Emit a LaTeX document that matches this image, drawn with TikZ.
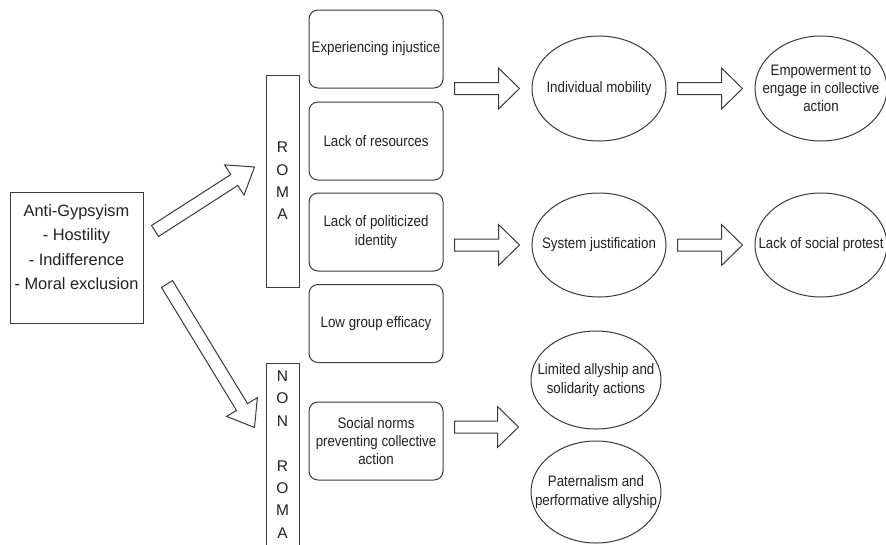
\documentclass[tikz,border=0pt]{standalone}
\usepackage{fontspec}
\setmainfont{Liberation Sans}[FakeStretch=0.875]
\newfontfamily\leftfont{Liberation Sans}
\usetikzlibrary{shapes.geometric,calc}
\definecolor{ln}{HTML}{3A3A3A}
\definecolor{tx}{HTML}{222222}
\tikzset{
 every node/.style={text=tx},
 boxr/.style={draw=ln, line width=1pt, rounded corners=9pt, minimum width=134pt, minimum height=78pt, inner sep=1pt, align=center, font=\fontsize{15.2}{18.3}\selectfont},
 ell/.style={draw=ln, line width=1pt, ellipse, inner sep=0pt},
 etxt/.style={align=center, font=\fontsize{15.2}{18.3}\selectfont, inner sep=0pt},
 bar/.style={draw=ln, line width=1pt, minimum width=33pt, inner sep=0pt},
 bartxt/.style={align=center, font=\leftfont\fontsize{15.5}{22.4}\selectfont, inner sep=0pt},
 arrline/.style={draw=ln, line width=1pt, line join=miter, fill=white},
}
% start, end, shaft half-width, head half-width, head length
\newcommand{\blockarrow}[5]{%
  \path #1 coordinate (ba-s) #2 coordinate (ba-e);
  \path ($(ba-e)!#5!(ba-s)$) coordinate (ba-h);
  \draw[arrline] ($(ba-s)!#3!90:(ba-e)$) -- ($(ba-h)!#3!90:(ba-e)$) -- ($(ba-h)!#4!90:(ba-e)$) -- (ba-e) -- ($(ba-h)!#4!-90:(ba-e)$) -- ($(ba-h)!#3!-90:(ba-e)$) -- ($(ba-s)!#3!-90:(ba-e)$) -- cycle;
}
\begin{document}
\begin{tikzpicture}[x=1pt,y=-1pt]
\useasboundingbox (0,0) rectangle (886,544);
\clip (0,0) rectangle (886,544);
\fill[white] (0,0) rectangle (886,544);

% left box
\node[draw=ln, line width=1pt, minimum width=133pt, minimum height=131pt, inner sep=0pt] (anti) at (76.5,257.5) {};
\node[align=center, font=\leftfont\fontsize{16.4}{24.3}\selectfont, inner sep=0pt] (antit) at (76.5,247) {Anti-Gypsyism\\- Hostility\\- Indifference\\- Moral exclusion};

% group bars
\node[bar, minimum height=212pt] (roma) at (282.5,181) {};
\node[bartxt] (romat) at (282.5,181) {R\\O\\M\\A};
\node[bar, minimum height=200pt] (nonroma) at (282.5,463) {};
\node[bartxt] (nonromat) at (282.5,454.5) {N\\O\\N\\\mbox{}\\R\\O\\M\\A};

% rounded boxes
\node[boxr] (b1) at (376,49) {Experiencing injustice};
\node[boxr] (b2) at (376,141) {Lack of resources};
\node[boxr] (b3) at (376,232) {Lack of politicized\\identity};
\node[boxr] (b4) at (376,323.5) {Low group efficacy};
\node[boxr] (b5) at (376,441) {Social norms\\preventing collective\\action};

% ellipses
\node[ell, minimum width=134pt, minimum height=105pt] (e1) at (599,88.5) {};
\node[etxt] (e1t) at (e1.center) {Individual mobility};
\node[ell, minimum width=132pt, minimum height=105pt] (e2) at (821,88.5) {};
\node[etxt] (e2t) at (e2.center) {Empowerment to\\engage in collective\\action};
\node[ell, minimum width=134pt, minimum height=104pt] (e3) at (599,245) {};
\node[etxt] (e3t) at (e3.center) {System justification};
\node[ell, minimum width=132pt, minimum height=104pt] (e4) at (821,245) {};
\node[etxt] (e4t) at (e4.center) {Lack of social protest};
\node[ell, minimum width=130pt, minimum height=98pt] (e5) at (596,380) {};
\node[etxt] (e5t) at (e5.center) {Limited allyship and\\solidarity actions};
\node[ell, minimum width=130pt, minimum height=102pt] (e6) at (596,492) {};
\node[etxt] (e6t) at (e6.center) {Paternalism and\\performative allyship};

% diagonal block arrows
\blockarrow{($(anti.east)+(11.5,-26.5)$)}{($(roma.west)+(-11,-14)$)}{6.5pt}{18pt}{24pt}
\blockarrow{($(anti.east)+(23.5,26.5)$)}{($(nonroma.north west)+(-11,65)$)}{6.5pt}{18pt}{24pt}

% horizontal block arrows
\blockarrow{($(b1.east |- e1.west)+(11,0)$)}{($(e1.west)+(-12,0)$)}{6pt}{20.5pt}{21pt}
\blockarrow{($(b3.east |- e3.west)+(11,0)$)}{($(e3.west)+(-12,0)$)}{6pt}{20.5pt}{21pt}
\blockarrow{($(b5.east)+(11,-14)$)}{($(e5.west |- b5.east)+(-12,-14)$)}{6pt}{20.5pt}{21pt}
\blockarrow{($(e1.east)+(11,0)$)}{($(e2.west)+(-12,0)$)}{6pt}{20.5pt}{21pt}
\blockarrow{($(e3.east)+(11,0)$)}{($(e4.west)+(-12,0)$)}{6pt}{20.5pt}{21pt}
\end{tikzpicture}
\end{document}
